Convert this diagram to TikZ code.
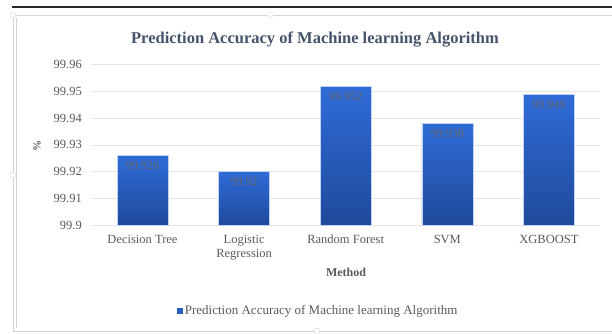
\documentclass[tikz,border=0pt]{standalone}
\usepackage{fontspec}
\setmainfont{Liberation Serif}
\usetikzlibrary{positioning}
\definecolor{gridgray}{HTML}{E4E4E4}
\definecolor{ticktext}{HTML}{595959}
\definecolor{titlecol}{HTML}{44546A}
\definecolor{bartop}{HTML}{2F6BD8}
\definecolor{barbot}{HTML}{1F4A9A}
\definecolor{framecol}{HTML}{D4D4D4}
\tikzset{
  tick/.style={font=\fontsize{12.5}{13}\selectfont,text=ticktext,anchor=east,inner sep=0pt},
  catlabel/.style={font=\fontsize{12.5}{14}\selectfont,text=ticktext,align=center,anchor=north,inner sep=0pt},
  vallabel/.style={font=\fontsize{12}{13}\selectfont,text=black!60,anchor=north,inner sep=0pt},
  handle/.style={draw=framecol,fill=white,rounded corners=1pt,minimum size=5pt,inner sep=0pt}
}
\begin{document}
\begin{tikzpicture}[x=1pt,y=-1pt]
\useasboundingbox (0,0) rectangle (612,334);
% page line and chart frame
\draw[line width=1.3pt,black!85] (12,7) -- (612,7);
\draw[framecol,line width=0.8pt] (612,15) -- (13,15) -- (13,331) -- (612,331);
\draw[framecol,line width=0.5pt] (16,18) -- (16,328);
\node[handle] (h1) at (13,15) {};
\node[handle] (h2) at (270,15) {};
\node[handle] (h3) at (13,175) {};
\node[handle] (h4) at (317,331) {};
% title
\node[font=\bfseries\fontsize{16.5}{18}\selectfont,text=titlecol] (title) at (315,40) {Prediction Accuracy of Machine learning Algorithm};
% grid and ticks
\foreach \v/\t in {0/99.9,1/99.91,2/99.92,3/99.93,4/99.94,5/99.95,6/99.96}{
  \draw[gridgray,line width=0.6pt] (92,225-26.7*\v) -- (600,225-26.7*\v);
  \node[tick] (tick\v) at (82,225-26.7*\v) {\t};
}
\node[rotate=90,font=\bfseries\fontsize{11}{12}\selectfont,text=ticktext] (ylab) at (37,146) {\%};
% bars
\foreach \i/\v/\t/\n in {0/2.6/99.926/dt,1/2.0/99.92/lr,2/5.2/99.952/rf,3/3.8/99.938/svm,4/4.9/99.949/xgb}{
  \shade[top color=bartop,bottom color=barbot] (117+101.6*\i,225) rectangle (168+101.6*\i,225-26.7*\v);
  \draw[white!70!bartop,line width=0.4pt] (117+101.6*\i,225) rectangle (168+101.6*\i,225-26.7*\v);
  \node[vallabel] (val\n) at (142.5+101.6*\i,231-26.7*\v) {\t};
}
% category labels
\node[catlabel] (catdt) at (142.5,235) {Decision Tree};
\node[catlabel] (catlr) at (244.1,235) {Logistic\\Regression};
\node[catlabel] (catrf) at (345.7,235) {Random Forest};
\node[catlabel] (catsvm) at (447.3,235) {SVM};
\node[catlabel] (catxgb) at (548.9,235) {XGBOOST};
\node[font=\bfseries\fontsize{12}{13}\selectfont,text=ticktext] (xlab) at (346,272) {Method};
% legend
\node[fill=bartop!90!black,minimum size=6pt,inner sep=0pt] (legkey) at (180,311) {};
\node[right=1.5pt of legkey,font=\fontsize{13}{14}\selectfont,text=ticktext,inner sep=0pt] (legtext) {Prediction Accuracy of Machine learning Algorithm};
\end{tikzpicture}
\end{document}
